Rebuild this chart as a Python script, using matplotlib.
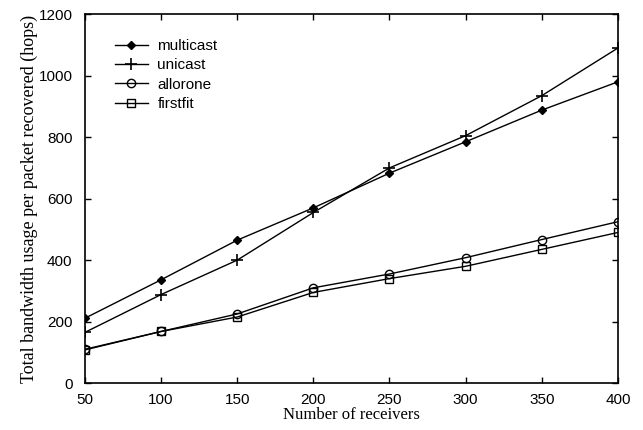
import matplotlib
matplotlib.use("Agg")
import matplotlib.pyplot as plt

# -----------------------------
# DATA
# -----------------------------
receivers = [50, 100, 150, 200, 250, 300, 350, 400]
multicast = [211, 336, 465, 570, 683, 785, 888, 980]
unicast = [165, 288, 400, 555, 700, 805, 935, 1090]
allorone = [110, 168, 225, 310, 355, 408, 467, 525]
firstfit = [108, 168, 215, 295, 340, 380, 435, 490]

x_ticks = [50, 100, 150, 200, 250, 300, 350, 400]
y_ticks = [0, 200, 400, 600, 800, 1000, 1200]

fig = plt.figure(figsize=(6.43, 4.30), dpi=100)
ax = fig.add_axes([0.132, 0.109, 0.829, 0.858])

lw = 1.0
ax.plot(receivers, multicast, color="black", lw=lw, marker="D", ms=4,
        mfc="black", label="multicast")
ax.plot(receivers, unicast, color="black", lw=lw, marker="+", ms=9,
        mew=1.2, label="unicast")
ax.plot(receivers, allorone, color="black", lw=lw, marker="o", ms=6,
        mfc="none", label="allorone")
ax.plot(receivers, firstfit, color="black", lw=lw, marker="s", ms=6,
        mfc="none", label="firstfit")

ax.set_xlim(50, 400)
ax.set_ylim(0, 1200)
ax.set_xticks(x_ticks)
ax.set_yticks(y_ticks)
ax.tick_params(direction="in", top=True, right=True, length=4,
               labelsize=11, width=1)
ax.tick_params(axis="x", pad=7)
ax.tick_params(axis="y", pad=9)
for lab in ax.get_xticklabels() + ax.get_yticklabels():
    lab.set_family("Liberation Sans")
for sp in ax.spines.values():
    sp.set_linewidth(1.2)

ax.set_xlabel("Number of receivers", family="Liberation Serif",
              fontsize=12, labelpad=0)
ax.set_ylabel("Total bandwidth usage per packet recovered (hops)",
              family="Liberation Serif", fontsize=13, labelpad=0)

ax.legend(loc="upper left", bbox_to_anchor=(0.03, 0.97), frameon=False,
          prop={"family": "Liberation Sans", "size": 11},
          handlelength=2.2, labelspacing=0.35, handletextpad=0.6)

fig.savefig("out.png", dpi=100)
